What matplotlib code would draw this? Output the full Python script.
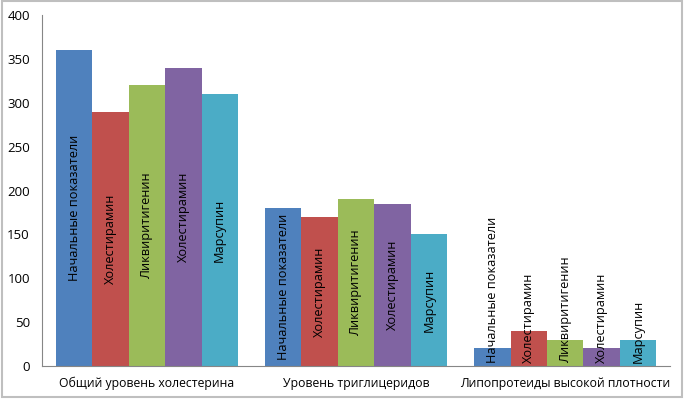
import matplotlib
matplotlib.use('Agg')
import matplotlib.pyplot as plt
import numpy as np
from matplotlib.patches import Rectangle

# Data
categories = ['Общий уровень холестерина', 'Уровень триглицеридов', 'Липопротеиды высокой плотности']
series = ['Начальные показатели', 'Холестирамин', 'Ликвиритигенин', 'Холестирамин', 'Марсупин']
initial = [360, 180, 20]
cholestyramine1 = [290, 170, 40]
liquiritigenin = [320, 190, 30]
cholestyramine2 = [340, 185, 20]
marsupin = [310, 150, 30]
yticks = [0, 50, 100, 150, 200, 250, 300, 350, 400]

values = [initial, cholestyramine1, liquiritigenin, cholestyramine2, marsupin]
colors = ['#4F81BD', '#C0504D', '#9BBB59', '#8064A2', '#4BACC6']

plt.rcParams['font.family'] = ['Open Sans', 'DejaVu Sans']

fig = plt.figure(figsize=(6.84, 3.99), dpi=100)
ax = fig.add_axes([0.062, 0.083, 0.917, 0.879])

x = np.arange(len(categories))
group_w = 0.87
bar_w = group_w / len(series)

for i, (name, vals) in enumerate(zip(series, values)):
    pos = x - group_w / 2 + bar_w * (i + 0.5)
    ax.bar(pos, vals, width=bar_w, color=colors[i], edgecolor='none', zorder=2)
    for px, v in zip(pos, vals):
        if v < 100:
            # short bars: label starts just above the base
            ax.text(px, 3, name, rotation=90, ha='center', va='bottom',
                    fontsize=9.2, color='black', zorder=3)
        else:
            ax.text(px, v / 2, name, rotation=90, ha='center', va='center',
                    fontsize=9.2, color='black', zorder=3)

ax.set_xlim(-0.5, len(categories) - 0.5)
ax.set_ylim(0, 400)
ax.set_yticks(yticks)
ax.set_yticklabels([str(t) for t in yticks], fontsize=9.5)
ax.set_xticks(x)
ax.set_xticklabels(categories, fontsize=8.8)
ax.tick_params(axis='x', length=0, pad=8)
ax.tick_params(axis='y', length=0, pad=9)

for s in ['top', 'right']:
    ax.spines[s].set_visible(False)
ax.spines['left'].set_color('#868686')
ax.spines['bottom'].set_color('#868686')

# chart border
fig.patches.append(Rectangle((0.003, 0.004), 0.994, 0.993, transform=fig.transFigure,
                             fill=False, edgecolor='#BFBFBF', linewidth=1.5))

plt.savefig('out.png', dpi=100)
